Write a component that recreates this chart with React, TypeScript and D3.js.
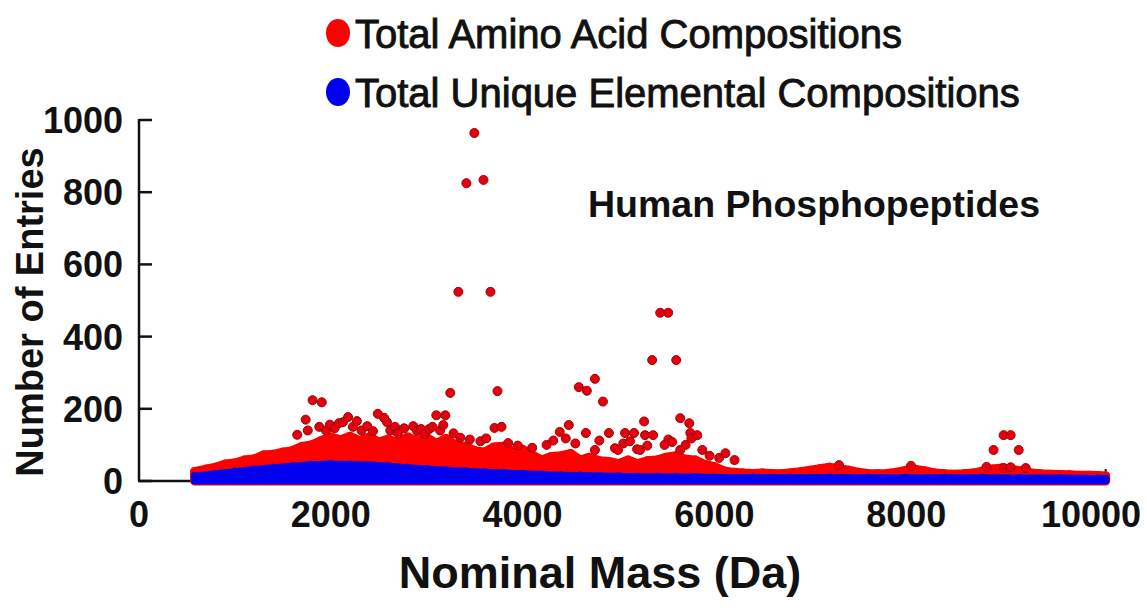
import React from 'react';
import * as d3 from 'd3';

const W = 1147;
const H = 610;
const FONT = 'Liberation Sans, Arial, Helvetica, sans-serif';

// axis ticks
const xTicks = [0, 2000, 4000, 6000, 8000, 10000];
const yTicks = [0, 200, 400, 600, 800, 1000];
const massMax = 10080;

// upper edge of the dense red band (nominal mass, entries)
const redMass = [
  580, 700, 800, 900, 1000, 1100, 1200, 1300, 1400, 1500, 1600, 1700, 1800, 1900, 2000,
  2100, 2200, 2300, 2400, 2500, 2600, 2700, 2800, 2900, 3000, 3100, 3200, 3300, 3400, 3500,
  3600, 3700, 3800, 3900, 4000, 4100, 4200, 4300, 4400, 4500, 4600, 4700, 4800, 4900, 5000,
  5100, 5200, 5300, 5400, 5500, 5600, 5700, 5800, 5900, 6000, 6100, 6200, 6300, 6400, 6500,
  6600, 6700, 6800, 6900, 7000, 7100, 7200, 7300, 7400, 7500, 7600, 7700, 7800, 7900, 8000,
  8100, 8200, 8300, 8400, 8500, 8600, 8700, 8800, 8900, 9000, 9100, 9200, 9300, 9400, 9500,
  9600, 9700, 9800, 9900, 10000, 10080,
];
const redTop = [
  26, 33, 38, 47, 50, 58, 61, 72, 74, 80, 84, 96, 100, 112, 122,
  114, 124, 112, 122, 108, 116, 104, 122, 110, 120, 104, 118, 100, 96, 84,
  80, 94, 96, 82, 88, 72, 58, 68, 70, 76, 58, 66, 56, 54, 48,
  58, 48, 56, 58, 66, 70, 60, 58, 46, 40, 28, 24, 22, 21, 22,
  21, 20, 23, 26, 30, 34, 38, 34, 30, 24, 21, 20, 21, 24, 30,
  32, 28, 22, 20, 19, 20, 22, 28, 33, 36, 32, 28, 22, 20, 19,
  18, 17, 16, 16, 15, 14,
];

// upper edge of the blue band
const blueMass = [
  580, 800, 1000, 1200, 1400, 1600, 1800, 2000, 2200, 2400, 2600, 2800, 3000, 3200, 3400,
  3600, 3800, 4000, 4200, 4400, 4600, 4800, 5000, 5200, 5400, 5600, 5800, 6000, 6400, 6800,
  7200, 7600, 8000, 8400, 8800, 9200, 9600, 10000, 10080,
];
const blueTop = [
  14, 20, 26, 32, 37, 41, 45, 47, 46, 44, 41, 37, 33, 30, 27,
  24, 22, 20, 18, 16, 15, 14, 13, 12, 12, 11, 11, 10, 10, 9,
  10, 9, 9, 9, 9, 8, 8, 7, 6,
];

// scattered red points above the band (nominal mass, entries)
const redSpots: [number, number][] = [
  [1650, 128], [1738, 170], [1760, 140], [1810, 224], [1880, 150], [1906, 218], [1950, 140],
  [1990, 156], [2040, 146], [2084, 160], [2126, 163], [2180, 177], [2230, 150], [2272, 166],
  [2320, 140], [2380, 152], [2440, 138], [2490, 186], [2555, 175], [2586, 163], [2620, 140],
  [2670, 150], [2700, 132], [2765, 146], [2860, 152], [2900, 138], [2942, 144], [2980, 130],
  [3026, 144], [3060, 150], [3100, 182], [3140, 140], [3194, 182], [3173, 155], [3246, 244],
  [3280, 132], [3350, 120], [3450, 115], [3560, 110], [3620, 118],
  [3330, 524], [3414, 825], [3497, 964], [3592, 834], [3665, 524], [3738, 249],
  [3707, 147], [3780, 150], [3850, 105], [3950, 98], [4100, 92], [4250, 100], [4320, 112],
  [4387, 136], [4450, 118], [4482, 155], [4550, 104], [4586, 260], [4670, 250], [4754, 283],
  [4838, 220], [4660, 133], [4754, 86], [4800, 112], [4900, 133], [4963, 91], [4995, 86],
  [5050, 104], [5068, 133], [5120, 110], [5162, 133], [5194, 88], [5225, 86], [5267, 165],
  [5277, 127], [5300, 98], [5351, 335], [5361, 127], [5435, 466], [5518, 466], [5602, 335],
  [5480, 100], [5520, 115], [5560, 108], [5644, 174], [5700, 100], [5738, 160], [5749, 133],
  [5760, 118], [5822, 127], [5644, 86], [5874, 86], [5950, 70], [6050, 64], [6115, 77],
  [6210, 58], [7300, 44], [8050, 42], [8838, 39], [8911, 86], [9016, 127], [9089, 127],
  [9173, 86], [9016, 36], [9089, 38], [9246, 36],
];

const legendItems = [
  { label: 'Total Amino Acid Compositions', color: '#ff0000' },
  { label: 'Total Unique Elemental Compositions', color: '#0000ee' },
];

export default function App() {
  const x = d3.scaleLinear().domain([0, 10000]).range([139, 1098]);
  const y = d3.scaleLinear().domain([0, 1000]).range([481, 120]);

  const redPts = redMass.map((m, i) => [m, redTop[i]] as [number, number]);
  const bluePts = blueMass.map((m, i) => [m, blueTop[i]] as [number, number]);

  const band = d3
    .area<[number, number]>()
    .x((d) => x(d[0]))
    .y0(y(0))
    .y1((d) => y(d[1]));

  return (
    <svg
      width={W}
      height={H}
      style={{ position: 'absolute', left: 0, top: 0, background: '#fff' }}
      fontFamily={FONT}
    >
      {/* legend */}
      {legendItems.map((it, i) => (
        <g key={it.label}>
          <ellipse cx={338} cy={33 + i * 59} rx={12} ry={14} fill={it.color} />
          <text x={355} y={48 + i * 59} fontSize={40} fill="#111" stroke="#111" strokeWidth={0.9}>
            {it.label}
          </text>
        </g>
      ))}

      <text
        x={588}
        y={217}
        fontSize={37}
        fontWeight="bold"
        fill="#111"
        textLength={452}
        lengthAdjust="spacingAndGlyphs"
      >
        Human Phosphopeptides
      </text>

      {/* axes */}
      <line x1={x(0)} x2={x(0)} y1={y(1000) - 1} y2={y(0)} stroke="#111" strokeWidth={2.5} />
      <line x1={x(0) - 1} x2={x(massMax)} y1={y(0)} y2={y(0)} stroke="#111" strokeWidth={2.5} />
      <line x1={x(massMax)} x2={x(massMax)} y1={y(0) - 12} y2={y(0)} stroke="#111" strokeWidth={2} />
      {yTicks.map((t) => (
        <g key={t}>
          <line x1={x(0)} x2={x(0) + 13} y1={y(t)} y2={y(t)} stroke="#111" strokeWidth={2.5} />
          <text x={123} y={y(t) + 13} textAnchor="end" fontSize={36} fontWeight="bold" fill="#111">
            {t}
          </text>
        </g>
      ))}
      {xTicks.map((t) => (
        <text
          key={t}
          x={Math.min(x(t), W - 56)}
          y={527}
          textAnchor="middle"
          fontSize={36}
          fontWeight="bold"
          fill="#111"
        >
          {t}
        </text>
      ))}

      <text
        transform="translate(43,312) rotate(-90)"
        textAnchor="middle"
        fontSize={38}
        fontWeight="bold"
        fill="#111"
      >
        Number of Entries
      </text>
      <text x={600} y={588} textAnchor="middle" fontSize={45} fontWeight="bold" fill="#111">
        Nominal Mass (Da)
      </text>

      {/* red series */}
      <path d={band(redPts) ?? ''} fill="#ff0000" stroke="#ff0000" strokeWidth={9} strokeLinejoin="round" />
      {redPts.map((d, i) => (
        <circle key={'r' + i} cx={x(d[0])} cy={y(d[1])} r={4.5} fill="#ff0000" />
      ))}
      {redSpots.map((d, i) => (
        <circle key={'s' + i} cx={x(d[0])} cy={y(d[1])} r={4.5} fill="#e3000f" stroke="#a30000" strokeWidth={1} />
      ))}

      {/* blue series */}
      <path d={band(bluePts) ?? ''} fill="#0000ee" stroke="#0000ee" strokeWidth={7} strokeLinejoin="round" />
      {bluePts.map((d, i) => (
        <circle key={'b' + i} cx={x(d[0])} cy={y(d[1])} r={4} fill="#0000ee" />
      ))}
    </svg>
  );
}
